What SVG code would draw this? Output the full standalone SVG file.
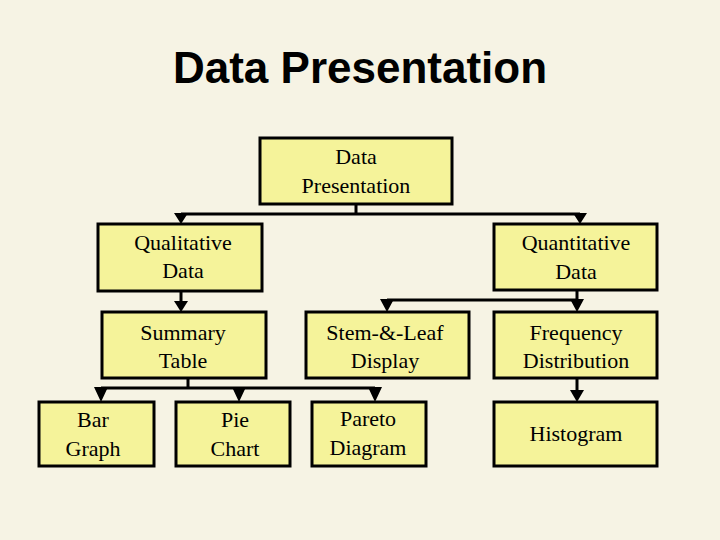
<svg xmlns="http://www.w3.org/2000/svg" width="720" height="540" viewBox="0 0 720 540">
<defs>
<style>
.b{fill:#f5f39a;stroke:#000;stroke-width:3}
.t{font-family:"Liberation Serif",serif;font-size:22px;text-anchor:middle;fill:#000}
.c{fill:none;stroke:#000;stroke-width:3}
.a{fill:#000}
</style>
</defs>
<rect width="720" height="540" fill="#f6f3e4"/>
<text x="360" y="83" font-family="Liberation Sans,sans-serif" font-size="44" font-weight="bold" text-anchor="middle">Data Presentation</text>
<g id="connectors">
<path class="c" d="M356,204 V214 M181,214 H580 M181,214 V218 M580,214 V218"/>
<path class="a" d="M174,213 H188 L181,224 Z M573,213 H587 L580,224 Z"/>
<path class="c" d="M181,291 V304"/>
<path class="a" d="M174,301 H188 L181,312 Z"/>
<path class="c" d="M577,290 V300 M387,300 H577"/>
<path class="a" d="M380,299 H394 L387,312 Z M570,299 H584 L577,312 Z"/>
<path class="c" d="M188,378 V388 M101,388 H375"/>
<path class="a" d="M94,387 H108 L101,402 Z M232,387 H246 L239,402 Z M368,387 H382 L375,402 Z"/>
<path class="c" d="M577,378 V392"/>
<path class="a" d="M570,390 H584 L577,402 Z"/>
</g>
<g id="root"><rect class="b" x="260" y="138" width="192" height="66"/><text class="t" x="356" y="164">Data</text><text class="t" x="356" y="193">Presentation</text></g>
<g id="qual"><rect class="b" x="98" y="224" width="164" height="67"/><text class="t" x="183" y="250">Qualitative</text><text class="t" x="183" y="278">Data</text></g>
<g id="quant"><rect class="b" x="494" y="224" width="163" height="66"/><text class="t" x="576" y="250">Quantitative</text><text class="t" x="576" y="279">Data</text></g>
<g id="summary"><rect class="b" x="102" y="312" width="164" height="66"/><text class="t" x="183" y="340">Summary</text><text class="t" x="183" y="368">Table</text></g>
<g id="stem"><rect class="b" x="306" y="312" width="163" height="66"/><text class="t" x="385" y="340">Stem-&amp;-Leaf</text><text class="t" x="385" y="368">Display</text></g>
<g id="freq"><rect class="b" x="494" y="312" width="163" height="66"/><text class="t" x="576" y="340">Frequency</text><text class="t" x="576" y="368">Distribution</text></g>
<g id="bar"><rect class="b" x="39" y="402" width="115" height="64"/><text class="t" x="93" y="427">Bar</text><text class="t" x="93" y="456">Graph</text></g>
<g id="pie"><rect class="b" x="176" y="402" width="114" height="64"/><text class="t" x="235" y="427">Pie</text><text class="t" x="235" y="456">Chart</text></g>
<g id="pareto"><rect class="b" x="312" y="402" width="114" height="64"/><text class="t" x="368" y="426">Pareto</text><text class="t" x="368" y="455">Diagram</text></g>
<g id="hist"><rect class="b" x="494" y="402" width="163" height="64"/><text class="t" x="576" y="441">Histogram</text></g>
</svg>
